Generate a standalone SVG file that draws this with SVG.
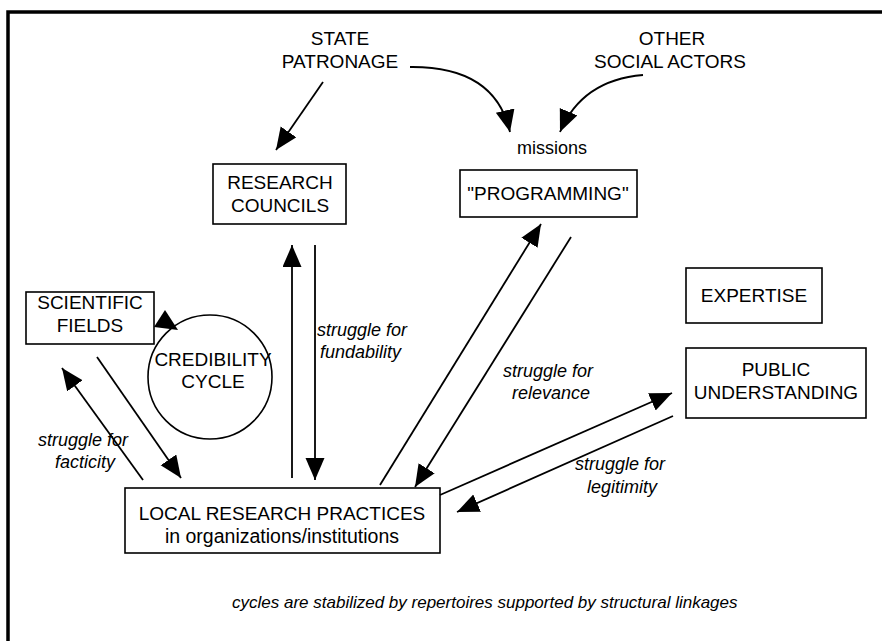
<svg xmlns="http://www.w3.org/2000/svg" width="882" height="641" viewBox="0 0 882 641">
<defs>
<style>
text{font-family:"Liberation Sans",Arial,sans-serif;fill:#000}
.lbl{font-size:19px;text-anchor:middle}
.it{font-size:18px;font-style:italic}
.box{fill:#fff;stroke:#000;stroke-width:1.6}
.ln{fill:none;stroke:#000;stroke-width:1.8}
</style>
<marker id="ah" markerUnits="userSpaceOnUse" markerWidth="24" markerHeight="20" refX="22" refY="9.5" orient="auto">
<path d="M0,0 L22,9.5 L0,19 z" fill="#000"/>
</marker>
</defs>
<rect width="882" height="641" fill="#fff"/>
<path d="M8,641 V12 H882" fill="none" stroke="#000" stroke-width="3.5"/>

<g id="state-patronage">
<text class="lbl" x="340" y="45">STATE</text>
<text class="lbl" x="340" y="68">PATRONAGE</text>
</g>
<g id="other-social-actors">
<text class="lbl" x="672" y="45">OTHER</text>
<text class="lbl" x="670" y="68">SOCIAL ACTORS</text>
</g>
<g id="missions">
<text class="lbl" x="552" y="154" style="font-size:18px">missions</text>
</g>
<g id="research-councils">
<rect class="box" x="213" y="164" width="133" height="60"/>
<text class="lbl" x="280" y="189">RESEARCH</text>
<text class="lbl" x="280" y="212">COUNCILS</text>
</g>
<g id="programming">
<rect class="box" x="460" y="170" width="177" height="47"/>
<text class="lbl" x="548" y="200">"PROGRAMMING"</text>
</g>
<g id="scientific-fields">
<rect class="box" x="26" y="292" width="128" height="52"/>
<text class="lbl" x="90" y="309">SCIENTIFIC</text>
<text class="lbl" x="90" y="332">FIELDS</text>
</g>
<g id="credibility-cycle">
<circle cx="210" cy="377" r="62" fill="none" stroke="#000" stroke-width="1.6"/>
<text class="lbl" x="213" y="366">CREDIBILITY</text>
<text class="lbl" x="213" y="388">CYCLE</text>
<polygon points="154,327 165,310 178,330" fill="#000"/>
</g>
<g id="expertise">
<rect class="box" x="686" y="268" width="136" height="55"/>
<text class="lbl" x="754" y="302">EXPERTISE</text>
</g>
<g id="public-understanding">
<rect class="box" x="686" y="348" width="180" height="70"/>
<text class="lbl" x="776" y="376">PUBLIC</text>
<text class="lbl" x="776" y="399">UNDERSTANDING</text>
</g>
<g id="local-research-practices">
<rect class="box" x="125" y="488" width="315" height="65"/>
<text class="lbl" x="282" y="520">LOCAL RESEARCH PRACTICES</text>
<text class="lbl" x="282" y="543" style="font-size:19.5px">in organizations/institutions</text>
</g>

<g id="connectors">
<line class="ln" x1="323" y1="82" x2="276" y2="150" marker-end="url(#ah)"/>
<path class="ln" d="M410,67 Q495,66 510,132" marker-end="url(#ah)"/>
<path class="ln" d="M643,75 Q582,80 560,132" marker-end="url(#ah)"/>
<line class="ln" x1="292" y1="478" x2="292" y2="245" marker-end="url(#ah)"/>
<line class="ln" x1="315" y1="245" x2="315" y2="480" marker-end="url(#ah)"/>
<line class="ln" x1="380" y1="485" x2="541" y2="224" marker-end="url(#ah)"/>
<line class="ln" x1="571" y1="237" x2="415" y2="487" marker-end="url(#ah)"/>
<line class="ln" x1="440" y1="495" x2="672" y2="393" marker-end="url(#ah)"/>
<line class="ln" x1="673" y1="416" x2="457" y2="512" marker-end="url(#ah)"/>
<line class="ln" x1="143" y1="480" x2="62" y2="368" marker-end="url(#ah)"/>
<line class="ln" x1="97" y1="357" x2="181" y2="478" marker-end="url(#ah)"/>
</g>

<g id="labels">
<text class="it" x="317" y="336">struggle for</text>
<text class="it" x="320" y="358">fundability</text>
<text class="it" x="503" y="377">struggle  for</text>
<text class="it" x="512" y="399">relevance</text>
<text class="it" x="575" y="470">struggle for</text>
<text class="it" x="587" y="493">legitimity</text>
<text class="it" x="38" y="446">struggle for</text>
<text class="it" x="55" y="468">facticity</text>
<text class="it" x="232" y="608" style="font-size:17px">cycles are stabilized by repertoires supported by structural linkages</text>
</g>
</svg>
